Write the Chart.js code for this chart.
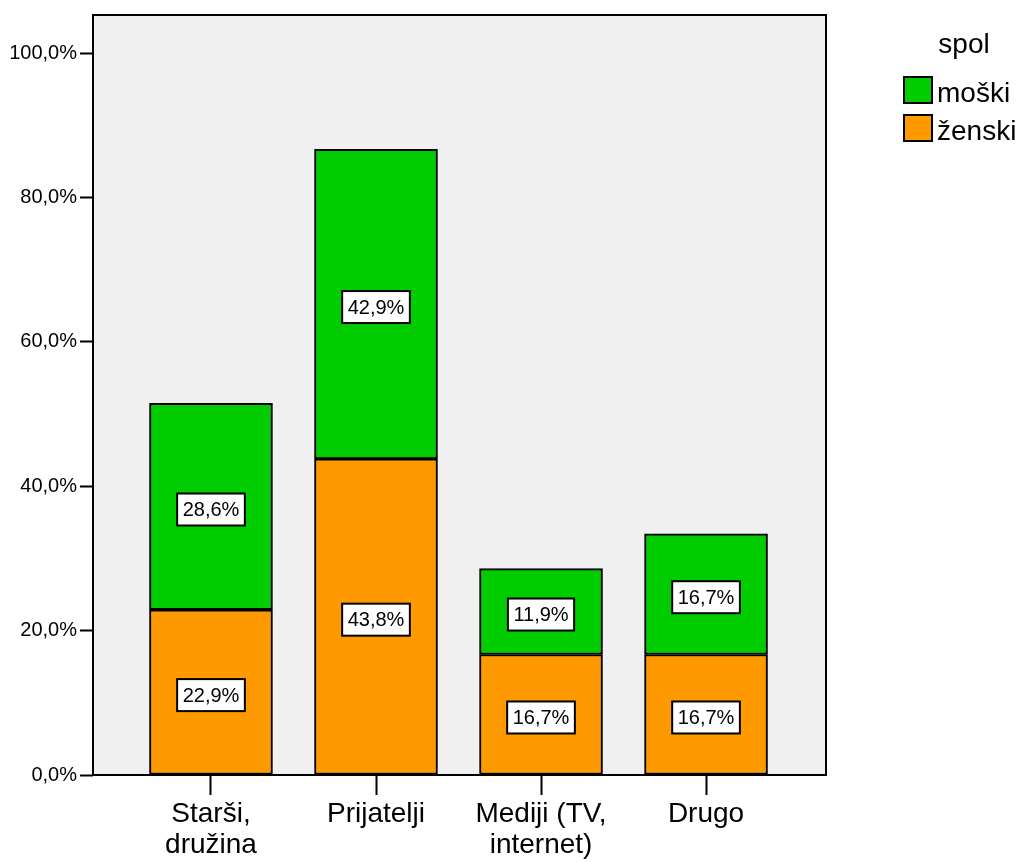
<!DOCTYPE html>
<html>
<head>
<meta charset="utf-8">
<script src="https://cdn.jsdelivr.net/npm/chart.js@4/dist/chart.umd.min.js"></script>
<style>
  html, body { margin: 0; padding: 0; background: #ffffff; }
  #wrap { width: 1024px; height: 862px; position: relative; }
</style>
</head>
<body>
<div id="wrap"><canvas id="c" width="1024" height="862"></canvas></div>
<script>
// Categories (multi-line axis labels)
const categories = [['Starši,', 'družina'], ['Prijatelji'], ['Mediji (TV,', 'internet)'], ['Drugo']];
// Series values, percent
const zenski = [22.9, 43.8, 16.7, 16.7];
const moski = [28.6, 42.9, 11.9, 16.7];
// Series names and legend title
const seriesNames = ['moški', 'ženski'];
const legendTitle = 'spol';
// Y tick values
const yTicks = [0, 20, 40, 60, 80, 100];

const GREEN = '#00CC00';
const ORANGE = '#FF9900';
const FONT = '"Liberation Sans", Arial, sans-serif';

const fmt = v => v.toFixed(1).replace('.', ',') + '%';

// Plot background and frame
const frame = {
  id: 'frame',
  beforeDraw(chart) {
    const { ctx, chartArea: a } = chart;
    ctx.save();
    ctx.fillStyle = '#F0F0F0';
    ctx.fillRect(a.left, a.top, a.right - a.left, a.bottom - a.top);
    ctx.restore();
  },
  afterDraw(chart) {
    const { ctx, chartArea: a } = chart;
    ctx.save();
    ctx.strokeStyle = '#000';
    ctx.lineWidth = 2;
    ctx.strokeRect(a.left, a.top, a.right - a.left, a.bottom - a.top);
    ctx.restore();
  }
};

// Boxed value labels centred in each segment
const segLabels = {
  id: 'segLabels',
  afterDatasetsDraw(chart) {
    const { ctx } = chart;
    ctx.save();
    ctx.font = '20px ' + FONT;
    ctx.textAlign = 'center';
    ctx.textBaseline = 'middle';
    chart.data.datasets.forEach((ds, di) => {
      const meta = chart.getDatasetMeta(di);
      meta.data.forEach((el, i) => {
        const txt = fmt(ds.data[i].y);
        const cx = el.x;
        const cy = (el.y + el.base) / 2 + 3;
        const w = ctx.measureText(txt).width + 11;
        const h = 32;
        ctx.fillStyle = '#fff';
        ctx.fillRect(cx - w / 2, cy - h / 2, w, h);
        ctx.strokeStyle = '#000';
        ctx.lineWidth = 2;
        ctx.strokeRect(cx - w / 2, cy - h / 2, w, h);
        ctx.fillStyle = '#000';
        ctx.fillText(txt, cx, cy + 1);
      });
    });
    ctx.restore();
  }
};

// Legend on the right
const sideLegend = {
  id: 'sideLegend',
  afterDraw(chart) {
    const { ctx } = chart;
    ctx.save();
    ctx.font = '28px ' + FONT;
    ctx.fillStyle = '#000';
    ctx.textAlign = 'center';
    ctx.textBaseline = 'alphabetic';
    ctx.fillText(legendTitle, 964, 53);
    const colors = [GREEN, ORANGE];
    seriesNames.forEach((name, i) => {
      const y = 77 + i * 38;
      ctx.fillStyle = colors[i];
      ctx.fillRect(904, y, 28, 26);
      ctx.strokeStyle = '#000';
      ctx.lineWidth = 2;
      ctx.strokeRect(904, y, 28, 26);
      ctx.fillStyle = '#000';
      ctx.textAlign = 'left';
      ctx.fillText(name, 937, y + 25);
    });
    ctx.restore();
  }
};

new Chart(document.getElementById('c'), {
  type: 'bar',
  data: {
    datasets: [
      {
        label: seriesNames[1],
        data: zenski.map((v, i) => ({ x: i, y: v })),
        backgroundColor: ORANGE,
        borderColor: '#000',
        borderWidth: 2,
        borderSkipped: false,
        barThickness: 123
      },
      {
        label: seriesNames[0],
        data: moski.map((v, i) => ({ x: i, y: v })),
        backgroundColor: GREEN,
        borderColor: '#000',
        borderWidth: 2,
        borderSkipped: false,
        barThickness: 123
      }
    ]
  },
  options: {
    responsive: false,
    animation: false,
    layout: { padding: { left: 0, top: 14, right: 198, bottom: 0 } },
    plugins: { legend: { display: false }, tooltip: { enabled: false } },
    scales: {
      x: {
        type: 'linear',
        stacked: true,
        min: -0.715,
        max: 3.727,
        offset: false,
        afterBuildTicks: s => { s.ticks = categories.map((_, i) => ({ value: i })); },
        afterFit: s => { s.height = 87; },
        border: { display: false },
        grid: { offset: false, drawOnChartArea: false, drawTicks: true, tickLength: 20, tickWidth: 2, tickColor: '#000' },
        ticks: {
          autoSkip: false,
          maxRotation: 0,
          padding: 4,
          color: '#000',
          font: { family: FONT, size: 28, lineHeight: 1.1 },
          callback: v => categories[v]
        }
      },
      y: {
        stacked: true,
        min: 0,
        max: 105.3,
        afterBuildTicks: s => { s.ticks = yTicks.map(v => ({ value: v })); },
        afterFit: s => { s.width = 93; },
        border: { display: false },
        grid: { drawOnChartArea: false, drawTicks: true, tickLength: 13, tickWidth: 2, tickColor: '#000' },
        ticks: {
          padding: 3,
          color: '#000',
          font: { family: FONT, size: 20 },
          callback: v => fmt(v)
        }
      }
    }
  },
  plugins: [frame, segLabels, sideLegend]
});
</script>
</body>
</html>
